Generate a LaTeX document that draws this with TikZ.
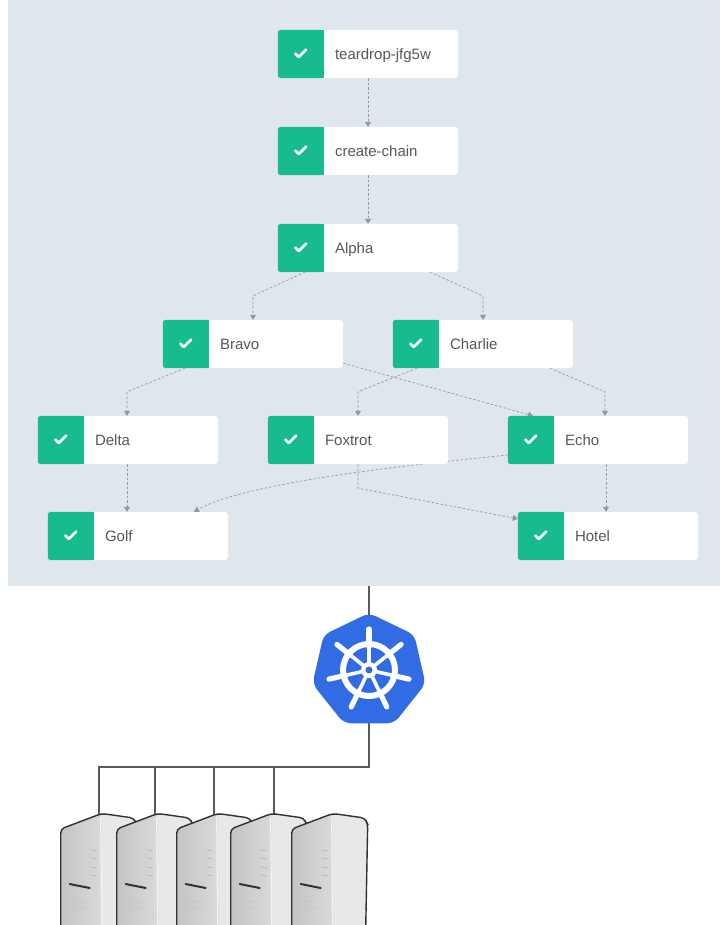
\documentclass[tikz,border=0pt]{standalone}
\usepackage{fontspec}
\setmainfont{Liberation Sans}
\usetikzlibrary{arrows.meta,shapes.geometric,backgrounds}

\definecolor{panelbg}{RGB}{223,230,236}
\definecolor{okgreen}{RGB}{24,187,140}
\definecolor{labelgray}{RGB}{88,88,88}
\definecolor{flowgray}{RGB}{150,150,150}
\definecolor{k8sblue}{RGB}{50,108,229}
\definecolor{wiregray}{RGB}{90,90,90}
\definecolor{towerline}{RGB}{48,48,48}
\definecolor{towerdark}{RGB}{196,196,196}
\definecolor{towermid}{RGB}{218,218,218}
\definecolor{towerlight}{RGB}{232,232,232}

\tikzset{
  jobbox/.style={fill=white, rounded corners=3pt, minimum width=180pt,
    minimum height=48pt, inner sep=0pt},
  joblabel/.style={anchor=base west, inner sep=0pt, text=labelgray,
    font=\fontsize{15}{18}\selectfont},
  checkmark/.style={draw=white, line width=2.6pt, line cap=round, line join=round},
  dagedge/.style={draw=flowgray, line width=0.7pt, dash pattern=on 2.5pt off 2pt,
    -{Triangle[length=5pt,width=6pt]}},
  wire/.style={draw=wiregray, line width=2pt},
}

% one workflow step: name, centre, label
\newcommand\wfstep[3]{%
  \node[jobbox] (#1) at (#2) {};
  \fill[okgreen, rounded corners=3pt] (#1.north west) rectangle ([xshift=46pt]#1.south west);
  \fill[okgreen] ([xshift=40pt]#1.north west) rectangle ([xshift=46pt]#1.south west);
  \draw[checkmark] ([xshift=17.5pt,yshift=0.5pt]#1.west) -- ++(3.5,3.5) -- ++(7.5,-7.5);
  \node[joblabel] at ([xshift=57pt,yshift=-5.5pt]#1.west) {#3};
}

% one tower server, left edge at x = #1
\newcommand\servertower[1]{%
  \begin{scope}[shift={(#1,829)}]
    \fill[towerlight, rounded corners=4pt]
      (0,100) -- (0,0) -- (41,-15.5) -- (73,-11) -- (76,-5) -- (74,100) -- cycle;
    \shade[left color=towerdark, right color=towermid, rounded corners=4pt]
      (0,100) -- (0,0) -- (41,-15.5) -- (42,100) -- cycle;
    \draw[white, line width=1.2pt, opacity=0.7] (40,-12) -- (41,100);
    \foreach \yy in {21,29,38,46}
      \draw[gray!55, line width=0.8pt] (30,\yy) -- (36,\yy+0.8);
    \draw[towerline, line width=2pt, line cap=round] (9,55) -- (29,59);
    \draw[gray!45, line width=0.8pt] (10,71) -- (25,73.5);
    \draw[gray!45, line width=0.8pt] (10,77) -- (25,79.5);
    \draw[towerline, line width=1.4pt, rounded corners=4pt]
      (0,100) -- (0,0) -- (41,-15.5) -- (73,-11) -- (76,-5) -- (74,100);
  \end{scope}}

\begin{document}
\begin{tikzpicture}[x=1pt, y=-1pt]
\useasboundingbox (0,0) rectangle (720,925);

\begin{pgfonlayer}{background}
  \node[fill=panelbg, minimum width=712pt, minimum height=586pt, inner sep=0pt,
    anchor=north west] (panel) at (8,0) {};
\end{pgfonlayer}

% workflow steps
\wfstep{teardrop}{368,54}{teardrop-jfg5w}
\wfstep{create}{368,151}{create-chain}
\wfstep{alpha}{368,248}{Alpha}
\wfstep{bravo}{253,344}{Bravo}
\wfstep{charlie}{483,344}{Charlie}
\wfstep{delta}{128,440}{Delta}
\wfstep{foxtrot}{358,440}{Foxtrot}
\wfstep{echo}{598,440}{Echo}
\wfstep{golf}{138,536}{Golf}
\wfstep{hotel}{608,536}{Hotel}

% dependencies between steps
\begin{pgfonlayer}{background}
  \draw[dagedge] (teardrop.south) -- (create.north);
  \draw[dagedge] (create.south) -- (alpha.north);
  \draw[dagedge] ([xshift=-63pt]alpha.south) -- ([yshift=24pt]bravo.north) -- (bravo.north);
  \draw[dagedge] ([xshift=62pt]alpha.south) -- ([yshift=24pt]charlie.north) -- (charlie.north);
  \draw[dagedge] ([xshift=-68pt]bravo.south) -- ([yshift=24pt,xshift=-1pt]delta.north) -- ([xshift=-1pt]delta.north);
  \draw[dagedge] ([yshift=5pt]bravo.south east) -- ([xshift=-65pt]echo.north);
  \draw[dagedge] ([xshift=-66pt]charlie.south) -- ([yshift=24pt]foxtrot.north) -- (foxtrot.north);
  \draw[dagedge] ([xshift=67pt]charlie.south) -- ([yshift=24pt,xshift=7pt]echo.north) -- ([xshift=7pt]echo.north);
  \draw[dagedge] ([xshift=-1pt]delta.south) -- ([xshift=-11pt]golf.north);
  \draw[dagedge] ([yshift=-15pt]echo.west) .. controls (440,462) and (250,480) .. ([xshift=56pt]golf.north);
  \draw[dagedge] (foxtrot.south) -- ([yshift=-24pt]foxtrot.south) -- ([yshift=-7pt]hotel.north west);
  \draw[dagedge] ([xshift=8pt]echo.south) -- ([xshift=-2pt]hotel.north);
\end{pgfonlayer}

% Kubernetes logo
\node[regular polygon, regular polygon sides=7, minimum size=116pt, inner sep=0pt,
  fill=k8sblue, rounded corners=7pt] (k8s) at (369,671) {};
\coordinate (wheel) at ([yshift=1pt]k8s.center);
\foreach \k in {0,...,6} {
  \draw[white, line width=3.6pt] (wheel) -- ++({90+\k*360/7}:27pt);
  \draw[white, line width=5.2pt, line cap=round] ([shift={({90+\k*360/7}:24pt)}]wheel) -- ++({90+\k*360/7}:17pt);
}
\draw[white, line width=6pt] (wheel) circle[radius=26pt];
\fill[white] (wheel) circle[radius=8pt];
\fill[k8sblue] (wheel) circle[radius=3.5pt];

% cluster wiring
\coordinate (bus) at (0,767);
\coordinate (t1) at (99,817);
\coordinate (t2) at (155,817);
\coordinate (t3) at (214,817);
\coordinate (t4) at (274,817);
\begin{pgfonlayer}{background}
  \draw[wire] (panel.south -| k8s.north) -- ([yshift=-5pt]k8s.north);
  \draw[wire] ([yshift=5pt]k8s.south) |- (t1 |- bus) -- (t1);
  \foreach \t in {t2,t3,t4} \draw[wire] (\t |- bus) -- (\t);
\end{pgfonlayer}

% servers
\servertower{60.7}
\servertower{116.7}
\servertower{176.7}
\servertower{230.7}
\servertower{291.7}
\end{tikzpicture}
\end{document}
